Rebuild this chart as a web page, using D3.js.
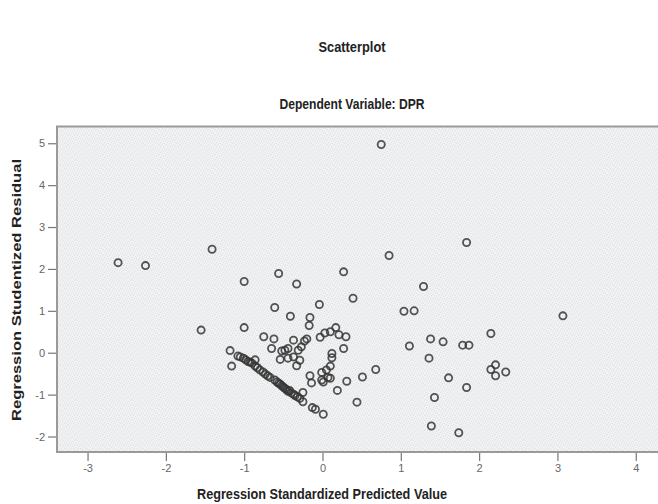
<!DOCTYPE html>
<html>
<head>
<meta charset="utf-8">
<script src="https://cdn.jsdelivr.net/npm/d3@7"></script>
<style>
  body { margin: 0; background: #fff; }
  svg { display: block; }
</style>
</head>
<body>
<div class="canvas"></div>
<script>
// predicted (standardized) values
const predicted = [
  -2.61, -2.26, -1.41, -1.00, -0.56, -0.33, 0.75, 1.84, 0.85, 0.27, 1.29, 0.39, -0.04, 1.04, 1.17, 3.07,
  -0.61, -0.41, -0.16, -0.17, -1.55, -1.00,
  2.15, 1.38, 1.54, 1.79, 1.87, 1.11, 1.36, 2.21, 2.15, 2.21, 2.34, 1.61, 1.84, 1.43, 1.39, 1.74,
  0.68, 0.51, 0.31, 0.19, 0.44,
  0.17, 0.10, 0.03, -0.03, 0.21, 0.30, 0.27, 0.12, 0.12, 0.10, -0.01, -0.16, 0.07, -0.14, 0.01,
  -0.25, -0.25, -0.13, -0.09, 0.01, -0.23, -0.20,
  -0.75, -0.62, -0.37, -0.65, -0.52, -0.44, -0.31, -0.27, -0.37, -0.29, -0.54, -0.33, -0.48, -0.44,
  -1.18, -1.16, -0.86, 0.05, -0.01, 0.10,
  -1.08, -1.05, -1.01, -0.98, -0.95, -0.92, -0.90, -0.86, -0.83, -0.80, -0.76, -0.73, -0.70, -0.67,
  -0.61, -0.58, -0.56, -0.54, -0.52, -0.50, -0.48, -0.46, -0.44, -0.42, -0.40, -0.37, -0.35, -0.32, -0.29
];
// studentized residuals
const residual = [
  2.15, 2.08, 2.47, 1.70, 1.89, 1.64, 4.97, 2.63, 2.32, 1.93, 1.58, 1.30, 1.15, 0.99, 1.00, 0.88,
  1.08, 0.87, 0.84, 0.65, 0.54, 0.60,
  0.46, 0.33, 0.26, 0.18, 0.18, 0.16, -0.13, -0.29, -0.40, -0.55, -0.46, -0.60, -0.83, -1.07, -1.75, -1.91,
  -0.40, -0.58, -0.68, -0.90, -1.18,
  0.60, 0.50, 0.47, 0.37, 0.43, 0.38, 0.10, -0.02, -0.12, -0.32, -0.47, -0.55, -0.59, -0.72, -0.70,
  -0.95, -1.17, -1.31, -1.35, -1.47, 0.28, 0.33,
  0.38, 0.33, 0.30, 0.10, 0.04, 0.10, 0.06, 0.14, -0.10, -0.18, -0.16, -0.31, 0.06, -0.13,
  0.05, -0.32, -0.17, -0.41, -0.65, -0.61,
  -0.08, -0.10, -0.13, -0.17, -0.21, -0.23, -0.25, -0.32, -0.36, -0.41, -0.46, -0.51, -0.55, -0.59,
  -0.65, -0.70, -0.73, -0.75, -0.79, -0.82, -0.85, -0.88, -0.92, -0.90, -0.96, -0.99, -1.02, -1.05, -1.09
];
const xTicks = [-3, -2, -1, 0, 1, 2, 3, 4];
const yTicks = [-2, -1, 0, 1, 2, 3, 4, 5];

const points = predicted.map((p, i) => ({ x: p, y: residual[i] }));

const dims = { width: 658, height: 504 };
const plot = { left: 57, top: 126.5, bottom: 452, right: 671 };

const svg = d3.select('.canvas')
    .append('svg')
    .attr('width', dims.width)
    .attr('height', dims.height);

// speckled background like the SPSS chart
const defs = svg.append('defs');
const pat = defs.append('pattern')
    .attr('id', 'speckle')
    .attr('width', 7).attr('height', 5)
    .attr('patternUnits', 'userSpaceOnUse');
pat.append('rect').attr('width', 7).attr('height', 5).attr('fill', '#f0f1f2');
[[0, 0], [4, 0], [2, 1], [6, 2], [1, 3], [3, 3], [5, 4]].forEach(([a, b]) => {
    pat.append('rect').attr('x', a).attr('y', b).attr('width', 1).attr('height', 1).attr('fill', '#e0e1e3');
});

const x = d3.scaleLinear().domain([-3.39, 4.45]).range([plot.left, plot.right]);
const y = d3.scaleLinear().domain([-2.37, 5.40]).range([plot.bottom, plot.top]);

svg.append('rect')
    .attr('x', plot.left).attr('y', plot.top)
    .attr('width', plot.right - plot.left)
    .attr('height', plot.bottom - plot.top)
    .attr('fill', 'url(#speckle)')
    .attr('stroke', '#9a9a9a')
    .attr('stroke-width', 2);

// axes
const xAxis = svg.append('g')
    .attr('transform', `translate(0,${plot.bottom + 1})`)
    .call(d3.axisBottom(x).tickValues(xTicks).tickSize(8).tickPadding(3).tickFormat(d3.format('d')));
const yAxis = svg.append('g')
    .attr('transform', `translate(${plot.left - 1},0)`)
    .call(d3.axisLeft(y).tickValues(yTicks).tickSize(8).tickPadding(3).tickFormat(d3.format('d')));

[xAxis, yAxis].forEach(g => {
    g.select('.domain').remove();
    g.selectAll('line').attr('stroke', '#777').attr('stroke-width', 1.2);
    g.selectAll('text')
        .attr('fill', '#666')
        .attr('font-family', 'Liberation Sans, Arial, sans-serif')
        .attr('font-size', 11);
});
xAxis.selectAll('text').text(d => d < 0 ? '-' + Math.abs(d) : d);
yAxis.selectAll('text').text(d => d < 0 ? '-' + Math.abs(d) : d);

// points
svg.append('g')
    .selectAll('circle')
    .data(points)
    .enter()
    .append('circle')
    .attr('cx', d => x(d.x))
    .attr('cy', d => y(d.y))
    .attr('r', 3.6)
    .attr('fill', 'none')
    .attr('stroke', '#363636')
    .attr('stroke-opacity', 0.85)
    .attr('stroke-width', 1.8);

// titles
const font = 'Liberation Sans, Arial, sans-serif';
const title = (txt, tx, ty, len, size) => svg.append('text')
    .attr('x', tx).attr('y', ty)
    .attr('text-anchor', 'middle')
    .attr('font-family', font)
    .attr('font-weight', 'bold')
    .attr('font-size', size)
    .attr('fill', '#222')
    .attr('textLength', len)
    .attr('lengthAdjust', 'spacingAndGlyphs')
    .text(txt);

title('Scatterplot', 352, 52, 67, 15);
title('Dependent Variable: DPR', 352, 109, 145, 15);
title('Regression Standardized Predicted Value', 322, 499, 250, 15);

svg.append('text')
    .attr('transform', `translate(21,290) rotate(-90)`)
    .attr('text-anchor', 'middle')
    .attr('font-family', font)
    .attr('font-weight', 'bold')
    .attr('font-size', 12)
    .attr('fill', '#222')
    .attr('textLength', 262)
    .attr('lengthAdjust', 'spacingAndGlyphs')
    .text('Regression Studentized Residual');
</script>
</body>
</html>
